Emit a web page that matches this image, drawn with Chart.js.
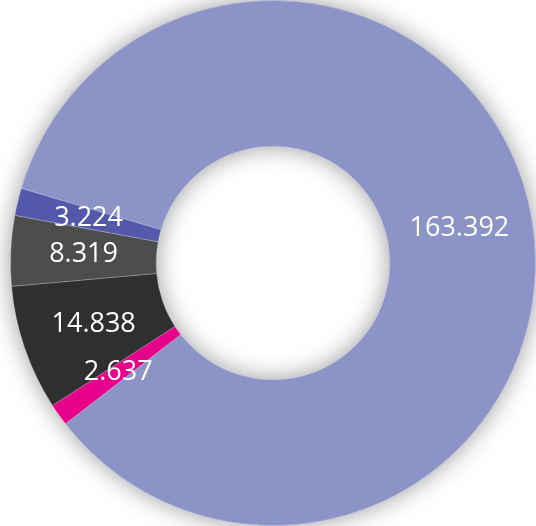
<!DOCTYPE html>
<html>
<head>
<meta charset="utf-8">
<script src="https://cdn.jsdelivr.net/npm/chart.js@4"></script>
<style>
  body { margin: 0; background: #fff; }
  #wrap { width: 536px; height: 526px; }
</style>
</head>
<body>
<div id="wrap"><canvas id="donut" width="536" height="526"></canvas></div>
<script>
// slice values, clockwise from the start angle
const categories = ['A', 'B', 'C', 'D', 'E'];
const values = [163.392, 2.637, 14.838, 8.319, 3.224];
const labelText = ['163.392', '2.637', '14.838', '8.319', '3.224'];
const colors = ['#8C93C7', '#E6008A', '#2F2F2F', '#4D4D4D', '#5358AA'];

// soft shadow under the whole ring
const ringShadow = {
  id: 'ringShadow',
  beforeDatasetsDraw(chart) {
    const arc = chart.getDatasetMeta(0).data[0];
    if (!arc) return;
    const ctx = chart.ctx;
    ctx.save();
    ctx.shadowColor = 'rgba(0,0,0,0.4)';
    ctx.shadowBlur = 24;
    ctx.beginPath();
    ctx.arc(arc.x, arc.y, arc.outerRadius, 0, Math.PI * 2);
    ctx.arc(arc.x, arc.y, arc.innerRadius, 0, Math.PI * 2, true);
    ctx.fillStyle = colors[0];
    ctx.fill();
    ctx.restore();
  }
};

// value labels in the middle of each slice
const sliceLabels = {
  id: 'sliceLabels',
  afterDatasetsDraw(chart) {
    const ctx = chart.ctx;
    ctx.save();
    ctx.fillStyle = '#fff';
    ctx.font = '27px "Open Sans"';
    ctx.textAlign = 'center';
    ctx.textBaseline = 'middle';
    chart.getDatasetMeta(0).data.forEach((arc, i) => {
      const p = arc.tooltipPosition();
      ctx.fillText(labelText[i], p.x, p.y);
    });
    ctx.restore();
  }
};

new Chart(document.getElementById('donut'), {
  type: 'doughnut',
  data: {
    labels: categories,
    datasets: [{
      data: values,
      backgroundColor: colors,
      borderColor: 'rgba(255,255,255,0.25)',
      borderWidth: 1
    }]
  },
  options: {
    responsive: false,
    animation: false,
    rotation: 286.5,
    cutout: '44.5%',
    layout: { padding: { left: 10 } },
    plugins: {
      legend: { display: false },
      tooltip: { enabled: false }
    }
  },
  plugins: [ringShadow, sliceLabels]
});
</script>
</body>
</html>
